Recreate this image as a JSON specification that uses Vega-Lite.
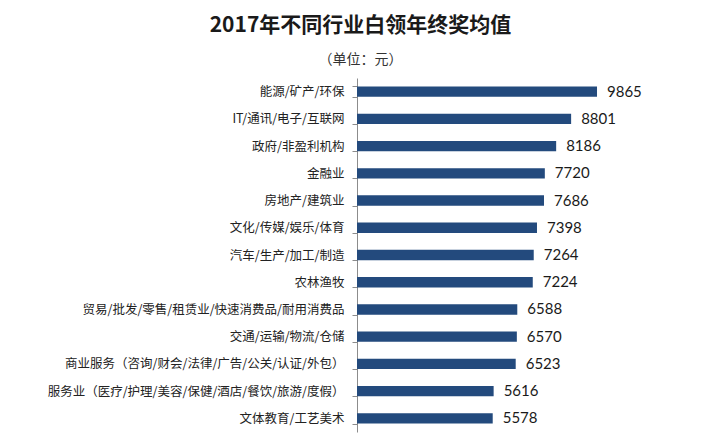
{
  "$schema": "https://vega.github.io/schema/vega-lite/v6.json",
  "autosize": "none",
  "width": 363,
  "height": 354,
  "padding": {"left": 357, "top": 78, "right": 0, "bottom": 12},
  "background": "white",
  "title": {
    "text": "2017年不同行业白领年终奖均值",
    "subtitle": "（单位：元）",
    "font": "Noto Sans CJK SC",
    "fontSize": 21,
    "fontWeight": "bold",
    "color": "#1a1a1a",
    "subtitleFont": "Noto Sans CJK SC",
    "subtitleFontSize": 14,
    "subtitleColor": "#333333",
    "subtitlePadding": 17,
    "anchor": "middle",
    "dx": -178,
    "offset": 5
  },
  "data": {
    "values": [
      {"industry": "能源/矿产/环保", "value": 9865},
      {"industry": "IT/通讯/电子/互联网", "value": 8801},
      {"industry": "政府/非盈利机构", "value": 8186},
      {"industry": "金融业", "value": 7720},
      {"industry": "房地产/建筑业", "value": 7686},
      {"industry": "文化/传媒/娱乐/体育", "value": 7398},
      {"industry": "汽车/生产/加工/制造", "value": 7264},
      {"industry": "农林渔牧", "value": 7224},
      {"industry": "贸易/批发/零售/租赁业/快速消费品/耐用消费品", "value": 6588},
      {"industry": "交通/运输/物流/仓储", "value": 6570},
      {"industry": "商业服务（咨询/财会/法律/广告/公关/认证/外包）", "value": 6523},
      {"industry": "服务业（医疗/护理/美容/保健/酒店/餐饮/旅游/度假）", "value": 5616},
      {"industry": "文体教育/工艺美术", "value": 5578}
    ]
  },
  "encoding": {
    "y": {
      "field": "industry",
      "type": "nominal",
      "sort": null,
      "scale": {"paddingInner": 0.62, "paddingOuter": 0.31},
      "axis": {
        "title": null,
        "domainColor": "#8c8c8c",
        "tickColor": "#8c8c8c",
        "tickBand": "extent",
        "tickSize": 5,
        "labelFont": "Noto Sans CJK SC",
        "labelFontSize": 12.5,
        "labelColor": "#222222",
        "labelPadding": 8,
        "labelLimit": 400
      }
    },
    "x": {
      "field": "value",
      "type": "quantitative",
      "scale": {"domain": [0, 14920], "nice": false},
      "axis": null
    }
  },
  "layer": [
    {"mark": {"type": "bar", "color": "#234a7d"}},
    {
      "mark": {"type": "text", "align": "left", "dx": 10, "font": "Lato", "fontSize": 15, "color": "#1a1a1a"},
      "encoding": {"text": {"field": "value", "type": "quantitative", "format": "d"}}
    }
  ],
  "config": {"view": {"stroke": null}}
}
